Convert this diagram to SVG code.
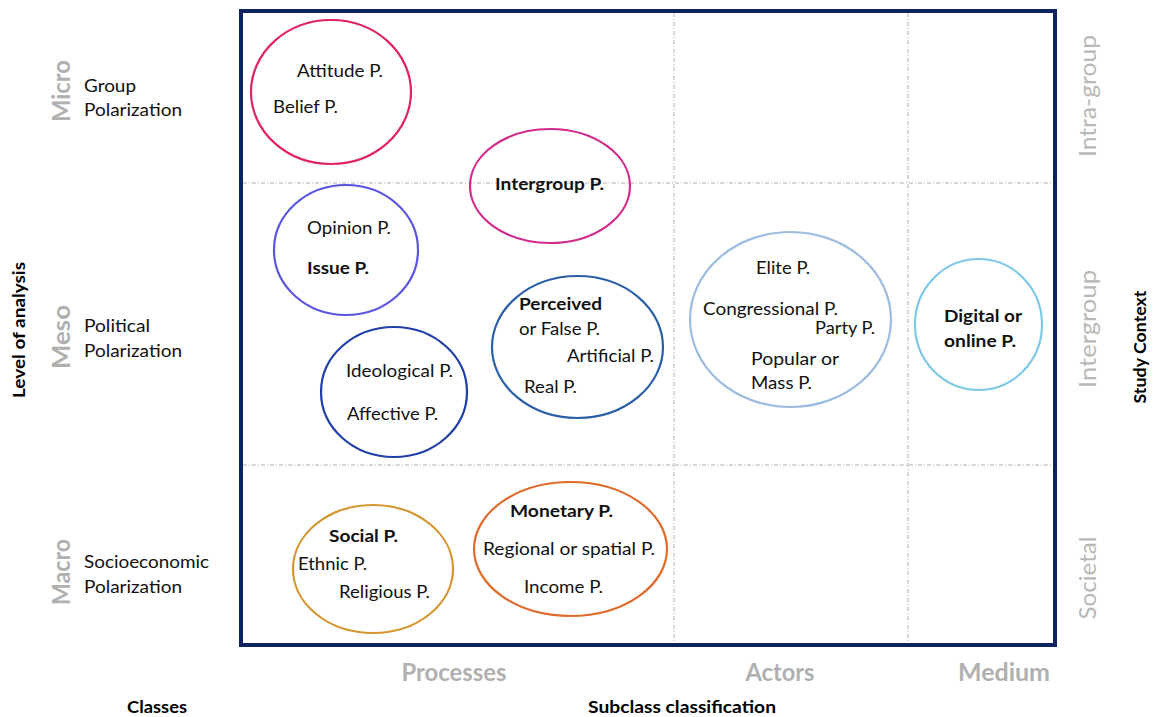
<svg xmlns="http://www.w3.org/2000/svg" width="1156" height="717" viewBox="0 0 1156 717">
<style>
.t{font-family:Lato,"Open Sans","Liberation Sans",sans-serif;font-size:17.5px;fill:#111}
.b{font-weight:bold}
.g{font-family:Lato,"Open Sans","Liberation Sans",sans-serif;font-size:24px;fill:#b0b0b0;font-weight:bold}
.gr{font-family:Lato,"Open Sans","Liberation Sans",sans-serif;font-size:23px;fill:#b8b8b8}
.h{font-family:Lato,"Liberation Sans",sans-serif;font-size:17px;font-weight:bold;fill:#000}
.c{font-family:Lato,"Open Sans","Liberation Sans",sans-serif;font-size:18px;fill:#111}
.grid{stroke:#b0b0b0;stroke-width:1;stroke-dasharray:4 2 1 2;fill:none}
.e{fill:none;stroke-width:2.2}
</style>
<rect width="1156" height="717" fill="#fff"/>
<g id="grid">
<line class="grid" x1="243" y1="183" x2="1053" y2="183"/>
<line class="grid" x1="243" y1="465" x2="1053" y2="465"/>
<line class="grid" x1="674" y1="13" x2="674" y2="643"/>
<line class="grid" x1="908" y1="13" x2="908" y2="643"/>
</g>
<rect id="frame" x="241" y="11" width="814" height="634" fill="none" stroke="#0d2260" stroke-width="4"/>
<g id="n-attitude"><ellipse class="e" cx="331" cy="92" rx="80" ry="72" stroke="#e0245e"/>
<text class="t" x="297" y="77" textLength="86" lengthAdjust="spacingAndGlyphs">Attitude P.</text>
<text class="t" x="273" y="113" textLength="65" lengthAdjust="spacingAndGlyphs">Belief P.</text></g>
<g id="n-intergroup"><ellipse class="e" cx="550" cy="186" rx="80" ry="57" stroke="#d02a8c"/>
<text class="t b" x="495" y="190" textLength="109" lengthAdjust="spacingAndGlyphs">Intergroup P.</text></g>
<g id="n-opinion"><ellipse class="e" cx="346" cy="250" rx="72" ry="65" stroke="#5a55e0"/>
<text class="t" x="307" y="234" textLength="84" lengthAdjust="spacingAndGlyphs">Opinion P.</text>
<text class="t b" x="307" y="274" textLength="62" lengthAdjust="spacingAndGlyphs">Issue P.</text></g>
<g id="n-ideological"><ellipse class="e" cx="394" cy="392" rx="73" ry="65" stroke="#1f3fa8"/>
<text class="t" x="346" y="377" textLength="107" lengthAdjust="spacingAndGlyphs">Ideological P.</text>
<text class="t" x="347" y="420" textLength="91" lengthAdjust="spacingAndGlyphs">Affective P.</text></g>
<g id="n-perceived"><ellipse class="e" cx="577.5" cy="347" rx="85.5" ry="71" stroke="#2a5ea8"/>
<text class="t b" x="519" y="310" textLength="83" lengthAdjust="spacingAndGlyphs">Perceived</text>
<text class="t" x="519" y="335" textLength="81" lengthAdjust="spacingAndGlyphs">or False P.</text>
<text class="t" x="567" y="362" textLength="87" lengthAdjust="spacingAndGlyphs">Artificial P.</text>
<text class="t" x="524" y="393" textLength="53" lengthAdjust="spacingAndGlyphs">Real P.</text></g>
<g id="n-elite"><ellipse class="e" cx="790.5" cy="319.5" rx="100.5" ry="87.5" stroke="#9dbde0"/>
<text class="t" x="756" y="274" textLength="54" lengthAdjust="spacingAndGlyphs">Elite P.</text>
<text class="t" x="703" y="315" textLength="135" lengthAdjust="spacingAndGlyphs">Congressional P.</text>
<text class="t" x="815" y="334" textLength="60" lengthAdjust="spacingAndGlyphs">Party P.</text>
<text class="t" x="751" y="365" textLength="88" lengthAdjust="spacingAndGlyphs">Popular or</text>
<text class="t" x="751" y="389" textLength="61" lengthAdjust="spacingAndGlyphs">Mass P.</text></g>
<g id="n-digital"><ellipse class="e" cx="978.5" cy="324.5" rx="63.5" ry="65.5" stroke="#7ec8e8"/>
<text class="t b" x="983" y="322" text-anchor="middle" textLength="78" lengthAdjust="spacingAndGlyphs">Digital or</text>
<text class="t b" x="980" y="347" text-anchor="middle" textLength="72" lengthAdjust="spacingAndGlyphs">online P.</text></g>
<g id="n-social"><ellipse class="e" cx="373" cy="569" rx="80" ry="64" stroke="#d4952e"/>
<text class="t b" x="329" y="542" textLength="69" lengthAdjust="spacingAndGlyphs">Social P.</text>
<text class="t" x="298" y="570" textLength="69" lengthAdjust="spacingAndGlyphs">Ethnic P.</text>
<text class="t" x="339" y="598" textLength="91" lengthAdjust="spacingAndGlyphs">Religious P.</text></g>
<g id="n-monetary"><ellipse class="e" cx="570.5" cy="549" rx="96.5" ry="67" stroke="#e06a2a"/>
<text class="t b" x="510" y="517" textLength="103" lengthAdjust="spacingAndGlyphs">Monetary P.</text>
<text class="t" x="483" y="555" textLength="172" lengthAdjust="spacingAndGlyphs">Regional or spatial P.</text>
<text class="t" x="524" y="593" textLength="79" lengthAdjust="spacingAndGlyphs">Income P.</text></g>
<g id="left-labels">
<text class="g" transform="translate(61,91) rotate(-90)" x="0" y="9" text-anchor="middle" textLength="62" lengthAdjust="spacingAndGlyphs">Micro</text>
<text class="g" transform="translate(61,337) rotate(-90)" x="0" y="9" text-anchor="middle" textLength="64" lengthAdjust="spacingAndGlyphs">Meso</text>
<text class="g" transform="translate(61,572) rotate(-90)" x="0" y="9" text-anchor="middle" textLength="66" lengthAdjust="spacingAndGlyphs">Macro</text>
<text class="c" x="84" y="92" textLength="52" lengthAdjust="spacingAndGlyphs">Group</text>
<text class="c" x="84" y="116" textLength="98" lengthAdjust="spacingAndGlyphs">Polarization</text>
<text class="c" x="84" y="332" textLength="66" lengthAdjust="spacingAndGlyphs">Political</text>
<text class="c" x="84" y="357" textLength="98" lengthAdjust="spacingAndGlyphs">Polarization</text>
<text class="c" x="84" y="568" textLength="125" lengthAdjust="spacingAndGlyphs">Socioeconomic</text>
<text class="c" x="84" y="593" textLength="98" lengthAdjust="spacingAndGlyphs">Polarization</text>
<text class="h" transform="translate(19,330) rotate(-90)" x="0" y="6" text-anchor="middle" textLength="136" lengthAdjust="spacingAndGlyphs">Level of analysis</text>
<text class="h" x="157" y="713" text-anchor="middle" textLength="60" lengthAdjust="spacingAndGlyphs">Classes</text>
</g>
<g id="right-labels">
<text class="gr" transform="translate(1088,96) rotate(-90)" x="0" y="8" text-anchor="middle" textLength="122" lengthAdjust="spacingAndGlyphs">Intra-group</text>
<text class="gr" transform="translate(1088,329) rotate(-90)" x="0" y="8" text-anchor="middle" textLength="118" lengthAdjust="spacingAndGlyphs">Intergroup</text>
<text class="gr" transform="translate(1088,578) rotate(-90)" x="0" y="8" text-anchor="middle" textLength="83" lengthAdjust="spacingAndGlyphs">Societal</text>
<text class="h" transform="translate(1140,347) rotate(-90)" x="0" y="6" text-anchor="middle" textLength="113" lengthAdjust="spacingAndGlyphs">Study Context</text>
</g>
<g id="bottom-labels">
<text class="g" x="454" y="681" text-anchor="middle" textLength="105" lengthAdjust="spacingAndGlyphs">Processes</text>
<text class="g" x="780" y="681" text-anchor="middle" textLength="69" lengthAdjust="spacingAndGlyphs">Actors</text>
<text class="g" x="1004" y="681" text-anchor="middle" textLength="92" lengthAdjust="spacingAndGlyphs">Medium</text>
<text class="h" x="682" y="713" text-anchor="middle" textLength="188" lengthAdjust="spacingAndGlyphs">Subclass classification</text>
</g>
</svg>
